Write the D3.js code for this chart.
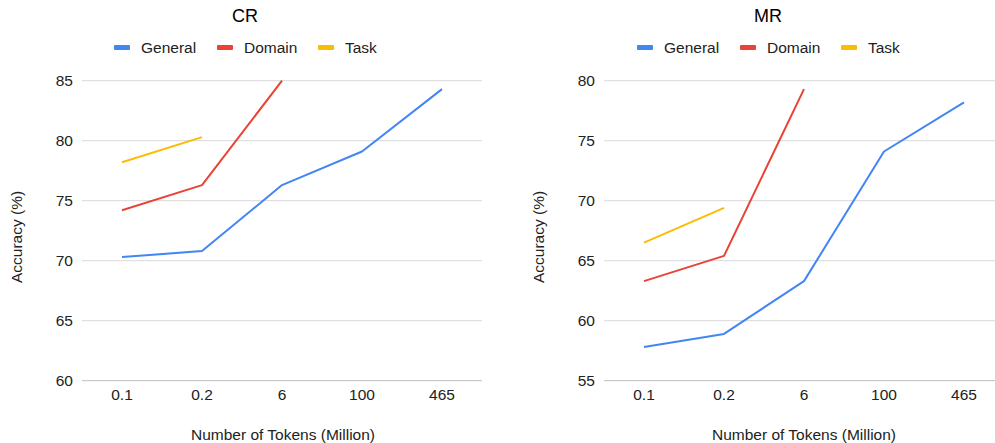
<!DOCTYPE html>
<html>
<head>
<meta charset="utf-8">
<script src="https://cdn.jsdelivr.net/npm/d3@7"></script>
<style>
  html, body { margin: 0; padding: 0; background: #fff; }
  svg { display: block; font-family: "Liberation Sans", Arial, sans-serif; }
</style>
</head>
<body>
<svg id="chart" width="995" height="443"></svg>
<script>
// ---- data ----
const categories = ["0.1", "0.2", "6", "100", "465"];
const seriesNames = ["General", "Domain", "Task"];
const seriesColors = ["#4285f4", "#ea4335", "#fbbc04"];

const crGeneral = [70.3, 70.8, 76.3, 79.1, 84.3];
const crDomain  = [74.2, 76.3, 85.0];
const crTask    = [78.2, 80.3];
const crTicks   = [60, 65, 70, 75, 80, 85];

const mrGeneral = [57.8, 58.9, 63.3, 74.1, 78.2];
const mrDomain  = [63.3, 65.4, 79.3];
const mrTask    = [66.5, 69.4];
const mrTicks   = [55, 60, 65, 70, 75, 80];

const panels = [
  { title: "CR", series: [crGeneral, crDomain, crTask], ticks: crTicks,
    left: 82, right: 482, titleX: 245, legendX: 114, yTitleX: 17, xTitleX: 283 },
  { title: "MR", series: [mrGeneral, mrDomain, mrTask], ticks: mrTicks,
    left: 604, right: 1004, titleX: 768, legendX: 637, yTitleX: 539, xTitleX: 804 }
];

const svg = d3.select("#chart");
const plotTop = 80.7, plotBottom = 380.7;
const textColor = "#222";
const fs = 15.5;

panels.forEach(p => {
  const g = svg.append("g");
  const x = d3.scalePoint().domain(categories).range([p.left, p.right]).padding(0.5);
  const y = d3.scaleLinear().domain([d3.min(p.ticks), d3.max(p.ticks)]).range([plotBottom, plotTop]);

  // gridlines
  g.append("g").selectAll("line").data(p.ticks).join("line")
    .attr("x1", p.left).attr("x2", p.right)
    .attr("y1", d => y(d)).attr("y2", d => y(d))
    .attr("stroke", d => d === d3.min(p.ticks) ? "#bdbdbd" : "#d9d9d9")
    .attr("stroke-width", 1);

  // y tick labels
  g.append("g").selectAll("text").data(p.ticks).join("text")
    .attr("x", p.left - 9).attr("y", d => y(d))
    .attr("dy", "0.35em").attr("text-anchor", "end")
    .attr("font-size", fs).attr("fill", textColor)
    .text(d => d);

  // x tick labels
  g.append("g").selectAll("text").data(categories).join("text")
    .attr("x", d => x(d)).attr("y", 395)
    .attr("dy", "0.35em").attr("text-anchor", "middle")
    .attr("font-size", fs).attr("fill", textColor)
    .text(d => d);

  // lines
  const line = d3.line().x((d, i) => x(categories[i])).y(d => y(d));
  p.series.forEach((vals, si) => {
    g.append("path").datum(vals)
      .attr("fill", "none")
      .attr("stroke", seriesColors[si])
      .attr("stroke-width", 2)
      .attr("stroke-linejoin", "round")
      .attr("d", line);
  });

  // title
  g.append("text").attr("x", p.titleX).attr("y", 16).attr("dy", "0.35em")
    .attr("text-anchor", "middle").attr("font-size", 18).attr("fill", "#000")
    .text(p.title);

  // legend
  const legendOffsets = [0, 103, 204];
  seriesNames.forEach((name, i) => {
    const lx = p.legendX + legendOffsets[i];
    g.append("rect").attr("x", lx).attr("y", 45).attr("width", 16).attr("height", 5)
      .attr("rx", 1).attr("fill", seriesColors[i]);
    g.append("text").attr("x", lx + 27).attr("y", 48).attr("dy", "0.35em")
      .attr("font-size", fs).attr("fill", textColor).text(name);
  });

  // axis titles
  g.append("text")
    .attr("transform", `translate(${p.yTitleX},237) rotate(-90)`)
    .attr("dy", "0.35em").attr("text-anchor", "middle")
    .attr("font-size", fs).attr("fill", textColor)
    .text("Accuracy (%)");
  g.append("text").attr("x", p.xTitleX).attr("y", 435).attr("dy", "0.35em")
    .attr("text-anchor", "middle").attr("font-size", fs).attr("fill", textColor)
    .text("Number of Tokens (Million)");
});
</script>
</body>
</html>
